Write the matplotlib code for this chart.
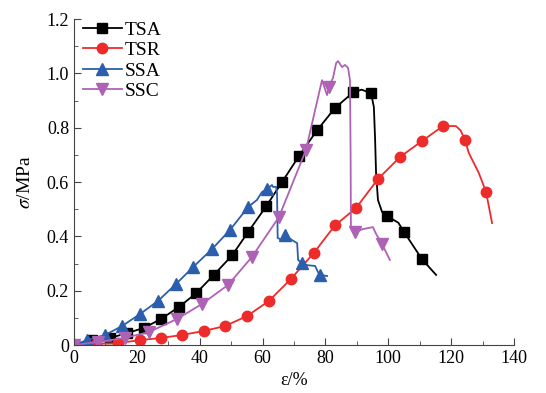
import numpy as np
import matplotlib.pyplot as plt
from matplotlib.ticker import MultipleLocator, FuncFormatter

plt.rcParams['font.family'] = ['Liberation Serif', 'DejaVu Serif']
plt.rcParams['mathtext.fontset'] = 'stix'

# TSA
tsa_x = [0, 5.7, 11.5, 16.9, 22.3, 27.7, 33.4, 38.8, 44.5, 50.3, 55.4, 61.1, 66.2, 71.6, 77.3, 83.0,
         88.8, 91.5, 94.5, 95.4, 95.8, 96.1, 96.7, 98.0, 99.6, 103.2, 105.0, 110.7, 115.2]
tsa_y = [0, 0.018, 0.026, 0.044, 0.063, 0.096, 0.14, 0.19, 0.258, 0.33, 0.416, 0.51, 0.60, 0.696, 0.79, 0.872,
         0.93, 0.94, 0.927, 0.876, 0.755, 0.633, 0.534, 0.49, 0.475, 0.45, 0.416, 0.316, 0.258]
tsa_marks = list(range(17)) + [18, 24, 26, 27]

# TSR
tsr_x = [0, 7.0, 14.0, 21.0, 27.7, 34.4, 41.4, 48.1, 55.1, 62.0, 69.0, 76.3, 83.0, 89.7, 96.7, 103.7,
         110.7, 117.4, 121.5, 123.0, 124.4, 125.6, 128.8, 131.1, 133.0]
tsr_y = [0, 0.004, 0.007, 0.018, 0.026, 0.037, 0.052, 0.07, 0.107, 0.162, 0.243, 0.339, 0.44, 0.504, 0.611, 0.692,
         0.751, 0.806, 0.806, 0.79, 0.755, 0.707, 0.633, 0.563, 0.449]
tsr_marks = list(range(18)) + [20, 23]

# SSA
ssa_x = [0, 4.1, 9.9, 15.3, 21.0, 26.7, 32.5, 37.9, 43.9, 49.6, 55.4, 58.2, 59.8, 61.4, 63.0, 63.3, 64.3,
         64.6, 64.8, 66.2, 67.1, 69.4, 71.0, 71.3, 72.5, 74.1, 76.7, 77.6, 78.3, 80.5]
ssa_y = [0, 0.018, 0.037, 0.07, 0.114, 0.162, 0.225, 0.287, 0.353, 0.423, 0.508, 0.534, 0.563, 0.574, 0.589,
         0.582, 0.582, 0.559, 0.394, 0.386, 0.405, 0.386, 0.375, 0.313, 0.302, 0.294, 0.291, 0.269, 0.258, 0.254]
ssa_marks = list(range(1, 11)) + [13, 20, 24, 28]

# SSC
ssc_x = [0, 7.6, 16.2, 23.9, 32.8, 40.7, 49.0, 56.6, 65.2, 73.8, 78.9, 80.5, 81.1, 82.4, 83.4, 84.0, 85.3,
         86.2, 87.2, 87.8, 88.0, 88.1, 89.4, 92.0, 95.1, 96.1, 98.0, 100.5]
ssc_y = [0, 0.011, 0.026, 0.048, 0.096, 0.151, 0.221, 0.324, 0.471, 0.718, 0.975, 0.92, 0.95, 0.983, 1.038,
         1.045, 1.023, 1.031, 1.02, 0.975, 0.7, 0.434, 0.416, 0.427, 0.434, 0.409, 0.372, 0.313]
ssc_marks = list(range(10)) + [12, 22, 26]

fig = plt.figure(figsize=(5.46, 3.93), dpi=100)
ax = fig.add_axes([0.1355, 0.1221, 0.806, 0.8295])

ax.plot(tsa_x, tsa_y, '-s', color='black', lw=1.3, ms=6.5, markevery=tsa_marks, label='TSA')
ax.plot(tsr_x, tsr_y, '-o', color='#ee2b2b', lw=1.3, ms=7.5, markevery=tsr_marks, label='TSR')
ax.plot(ssa_x, ssa_y, '-^', color='#2b5fad', lw=1.3, ms=8, markevery=ssa_marks, label='SSA')
ax.plot(ssc_x, ssc_y, '-v', color='#ae62b4', lw=1.3, ms=8, markevery=ssc_marks, label='SSC')

ax.set_xlim(0, 140)
ax.set_ylim(0, 1.2)
ax.xaxis.set_major_locator(MultipleLocator(20))
ax.xaxis.set_minor_locator(MultipleLocator(10))
ax.yaxis.set_major_locator(MultipleLocator(0.2))
ax.yaxis.set_minor_locator(MultipleLocator(0.1))
ax.yaxis.set_major_formatter(FuncFormatter(lambda v, p: '0' if abs(v) < 1e-9 else f'{v:.1f}'))
ax.tick_params(which='both', direction='in', labelsize=13, color='#444444')
ax.tick_params(which='major', length=5)
ax.tick_params(which='minor', length=3)
ax.spines['top'].set_visible(False)
ax.spines['right'].set_visible(False)
for s in ['left', 'bottom']:
    ax.spines[s].set_color('#444444')

ax.set_xlabel('ε/%', fontsize=13, labelpad=4)
ax.set_ylabel('$\\sigma$/MPa', fontsize=14, labelpad=9)

ax.legend(loc='upper left', bbox_to_anchor=(-0.011, 1.036), frameon=False, fontsize=14,
          handlelength=2.0, handletextpad=0.15, labelspacing=0.15, borderaxespad=0.3)

fig.savefig('out.png', dpi=100)
